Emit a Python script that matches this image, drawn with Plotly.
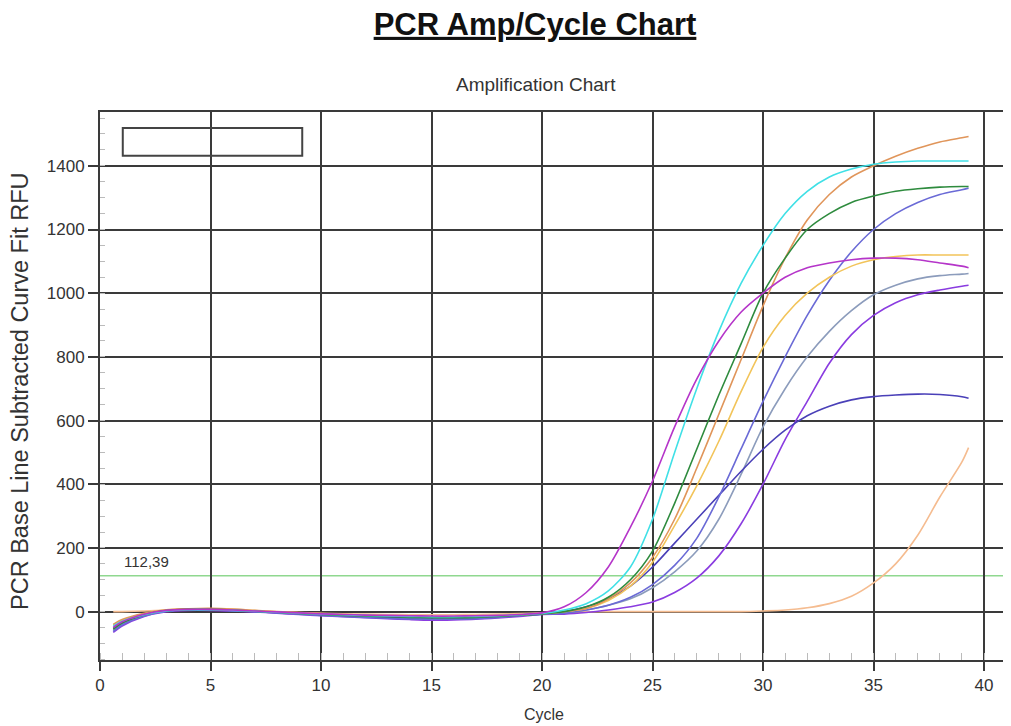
import plotly.graph_objects as go

# ---------------- data ----------------
CYCLES = [0.6, 1, 2, 3, 4, 5, 6, 7, 8, 9, 10, 11, 12, 13, 14, 15, 16, 17, 18, 19, 20,
          21, 22, 23, 24, 25, 26, 27, 28, 29, 30, 31, 32, 33, 34, 35, 36, 37, 38, 39, 39.3]

magenta = [-50, -32, -8, 4, 7, 7, 5, 2, -1, -4, -7, -9, -11, -12, -13, -14, -14, -13, -12, -9, -4,
           15, 60, 140, 265, 410, 580, 730, 850, 940, 1000, 1050, 1080, 1095, 1105, 1110, 1110, 1105, 1095, 1085, 1080]
cyan = [-45, -30, -10, 2, 6, 6, 4, 1, -2, -5, -8, -10, -12, -14, -15, -16, -16, -15, -13, -10, -6,
        5, 25, 65, 140, 290, 500, 700, 880, 1030, 1150, 1250, 1320, 1365, 1390, 1405, 1412, 1415, 1415, 1415, 1415]
green = [-55, -36, -10, 3, 7, 7, 5, 1, -2, -6, -9, -12, -14, -16, -18, -19, -19, -18, -15, -11, -7,
         0, 15, 45, 100, 190, 340, 510, 680, 840, 1000, 1110, 1200, 1250, 1285, 1305, 1320, 1328, 1333, 1335, 1335]
tan = [-40, -25, -5, 6, 9, 10, 8, 4, 0, -3, -6, -9, -11, -13, -15, -16, -16, -15, -13, -10, -6,
       0, 10, 40, 90, 170, 290, 450, 620, 790, 960, 1110, 1230, 1310, 1365, 1400, 1430, 1455, 1475, 1488, 1492]
gold = [-42, -28, -7, 5, 8, 9, 7, 3, -1, -4, -7, -10, -12, -14, -15, -16, -16, -15, -13, -10, -6,
        0, 10, 35, 80, 155, 270, 395, 535, 690, 830, 930, 1000, 1050, 1085, 1105, 1115, 1120, 1120, 1120, 1120]
slate = [-62, -42, -14, 1, 5, 5, 3, 0, -4, -8, -12, -15, -18, -21, -23, -24, -24, -22, -18, -13, -8,
         -5, 5, 20, 45, 85, 145, 230, 360, 510, 660, 800, 930, 1040, 1130, 1200, 1250, 1285, 1310, 1325, 1330]
greyblue = [-58, -38, -12, 2, 6, 6, 4, 0, -4, -7, -11, -14, -17, -20, -22, -24, -23, -21, -17, -12, -7,
            -5, 5, 20, 40, 75, 125, 190, 290, 430, 580, 700, 800, 880, 945, 995, 1025, 1045, 1055, 1060, 1062]
violet = [-65, -45, -15, 0, 4, 4, 2, -1, -5, -9, -13, -16, -19, -22, -25, -27, -26, -24, -20, -15, -9,
          -8, -3, 5, 15, 30, 60, 105, 175, 275, 400, 540, 660, 780, 870, 930, 970, 995, 1010, 1022, 1025]
darkslate = [-52, -34, -9, 3, 7, 7, 5, 1, -3, -6, -10, -13, -15, -17, -19, -20, -20, -18, -15, -11, -6,
             0, 15, 40, 80, 140, 215, 290, 365, 440, 510, 570, 615, 645, 665, 675, 680, 683, 682, 675, 670]
peach = [0, 0, 2, 5, 7, 7, 5, 2, -1, -3, -5, -7, -8, -9, -10, -10, -10, -9, -8, -6, -4,
         -2, -1, 0, 0, 0, 0, 0, 0, 0, 2, 5, 12, 25, 48, 90, 150, 240, 360, 470, 515]

SERIES = [peach, greyblue, violet, darkslate, slate, gold, tan, green, cyan, magenta]
COLORS = ["#F5BC90", "#8C9CBC", "#8A3CE0", "#4A40B8", "#6A6AD6", "#F2C45A",
          "#E0955A", "#2E8B3E", "#40E0E6", "#B535C9"]

THRESHOLD = 112.39
THRESHOLD_LABEL = "112,39"
Y_TICKS = [0, 200, 400, 600, 800, 1000, 1200, 1400]
X_TICKS = [0, 5, 10, 15, 20, 25, 30, 35, 40]

GRID = "#3a3a3a"
FONT = "Liberation Sans"

fig = go.Figure()
for vals, col in zip(SERIES, COLORS):
    fig.add_trace(go.Scatter(x=CYCLES, y=vals, mode="lines",
                             line=dict(color=col, width=1.6, shape="spline", smoothing=0.8),
                             hoverinfo="skip"))

# threshold line
fig.add_shape(type="line", xref="paper", x0=0, x1=1, yref="y", y0=THRESHOLD, y1=THRESHOLD,
              line=dict(color="#8FD88F", width=1.6), layer="below")

# empty legend box
fig.add_shape(type="rect", xref="paper", yref="paper", x0=0.025, x1=0.222, y0=0.920, y1=0.971,
              line=dict(color="#444", width=2), fillcolor="rgba(0,0,0,0)")

fig.add_annotation(x=1.0, y=THRESHOLD, xref="x", yref="y", text=THRESHOLD_LABEL,
                   showarrow=False, xanchor="left", yanchor="bottom", yshift=4,
                   font=dict(family=FONT, size=15, color="#333"))

fig.add_annotation(x=0.479, y=1, xref="paper", yref="paper", text="Amplification Chart",
                   showarrow=False, xanchor="center", yanchor="middle", yshift=28,
                   font=dict(family=FONT, size=19, color="#333"))

fig.add_annotation(x=(20 - 100) / 911, y=(660 - 391) / 548, xref="paper", yref="paper",
                   text="PCR Base Line Subtracted Curve Fit RFU", textangle=-90,
                   showarrow=False, xanchor="center", yanchor="middle",
                   font=dict(family=FONT, size=23.5, color="#333"))

fig.add_annotation(x=20.1, y=0, xref="x", yref="paper", text="Cycle",
                   showarrow=False, xanchor="center", yanchor="middle", yshift=-54,
                   font=dict(family=FONT, size=16, color="#333"))

# the page body has an 8px margin, so the figure is 8px smaller and margins shifted
fig.update_layout(
    width=1003, height=718,
    margin=dict(l=92, r=0, t=104, b=66),
    paper_bgcolor="white", plot_bgcolor="white",
    showlegend=False,
    title=dict(text="<b><u>PCR Amp/Cycle Chart</u></b>", x=(535 - 8) / 1003, xanchor="center",
               xref="container", yref="container", y=1 - 16 / 718, yanchor="middle",
               font=dict(family=FONT, size=31, color="#111")),
    xaxis=dict(range=[0, 41.22], tickvals=X_TICKS, showgrid=True, gridcolor=GRID, gridwidth=2,
               zeroline=False, showline=True, linecolor=GRID, linewidth=2, mirror=True,
               ticks="outside", ticklen=9, tickwidth=2, tickcolor=GRID,
               tickfont=dict(family=FONT, size=17, color="#333"),
               minor=dict(dtick=1, ticks="inside", ticklen=7, tickcolor="#bbbbbb", tickwidth=1,
                          showgrid=False)),
    yaxis=dict(range=[-152, 1569], tickvals=Y_TICKS, showgrid=True, gridcolor=GRID, gridwidth=2,
               zeroline=False, showline=True, linecolor=GRID, linewidth=2, mirror=False,
               ticks="outside", ticklen=10, tickwidth=2, tickcolor=GRID,
               tickfont=dict(family=FONT, size=17, color="#333"),
               minor=dict(dtick=50, ticks="inside", ticklen=5, tickcolor="#bbbbbb", tickwidth=1,
                          showgrid=False)),
)

fig.write_html("out.html")
